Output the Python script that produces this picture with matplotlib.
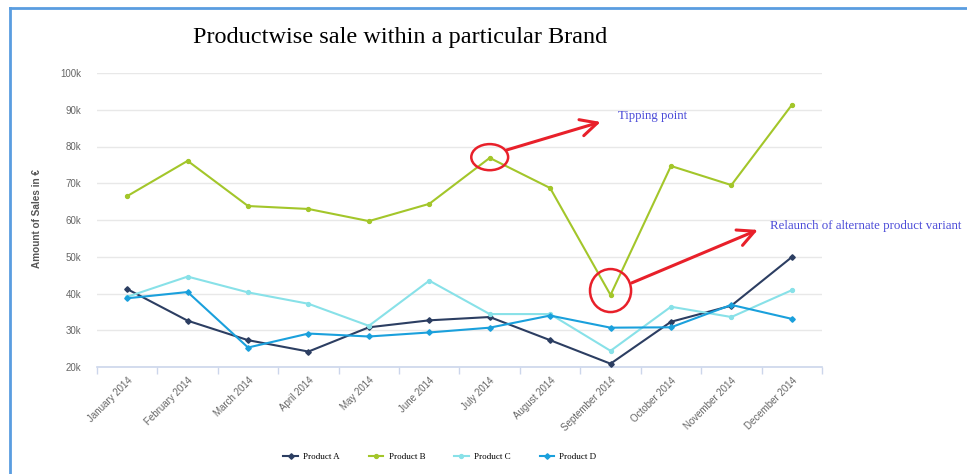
import numpy as np
import matplotlib
matplotlib.use("Agg")
import matplotlib.pyplot as plt
from matplotlib.patches import Ellipse
from matplotlib.lines import Line2D
from matplotlib.ticker import FuncFormatter

# monthly sales per product, in thousands of euro
months = ["January 2014", "February 2014", "March 2014", "April 2014", "May 2014",
          "June 2014", "July 2014", "August 2014", "September 2014", "October 2014",
          "November 2014", "December 2014"]
product_a = [41.2, 32.6, 27.3, 24.2, 30.8, 32.7, 33.6, 27.3, 20.9, 32.3, 36.7, 49.9]
product_b = [66.5, 76.1, 63.8, 63.0, 59.7, 64.4, 76.9, 68.7, 39.6, 74.7, 69.5, 91.3]
product_c = [39.1, 44.6, 40.3, 37.2, 31.2, 43.5, 34.4, 34.4, 24.4, 36.4, 33.6, 40.9]
product_d = [38.7, 40.4, 25.3, 29.1, 28.3, 29.4, 30.7, 34.0, 30.7, 30.8, 36.9, 33.1]
yticks = [20, 30, 40, 50, 60, 70, 80, 90, 100]

names = ["Product A", "Product B", "Product C", "Product D"]
colors = ["#2c3e62", "#a3c62a", "#88e1e8", "#1aa0dc"]
markers = ["D", "o", "o", "D"]
series = [product_a, product_b, product_c, product_d]

W, H = 967, 474
fig = plt.figure(figsize=(W / 100, H / 100), dpi=100)
fig.patch.set_facecolor("white")

# plot area in pixels: left 97, right 822, top 73, bottom 367
ax = fig.add_axes([97 / W, 1 - 367 / H, (822 - 97) / W, (367 - 73) / H])
x = np.arange(len(months))

for vals, name, c, m in zip(series, names, colors, markers):
    ax.plot(x, vals, color=c, lw=1.5, marker=m, ms=2.8, label=name, zorder=3)

ax.set_xlim(-0.5, len(months) - 0.5)
ax.set_ylim(20, 100)
ax.set_yticks(yticks)
ax.yaxis.set_major_formatter(FuncFormatter(lambda v, p: f"{int(v)}k"))
ax.grid(axis="y", color="#e8e8e8", lw=1)
ax.set_axisbelow(True)
for s in ["top", "right", "left"]:
    ax.spines[s].set_visible(False)
ax.spines["bottom"].set_color("#ccd6eb")
ax.spines["bottom"].set_linewidth(1.2)

ax.tick_params(axis="y", length=0, pad=11.5, labelsize=7, labelcolor="#666666")
ax.set_xticks(x)
ax.set_xticklabels(months, rotation=45, ha="right", rotation_mode="anchor",
                   fontsize=7, color="#666666")
ax.tick_params(axis="x", length=0, pad=6)
ax.set_xticks(np.arange(-0.5, len(months)), minor=True)
ax.tick_params(axis="x", which="minor", length=5, color="#ccd6eb", width=1)
for lab in ax.get_xticklabels() + ax.get_yticklabels():
    lab.set_family("Liberation Sans")

# callouts
red = "#e8202a"
head = "->,head_length=1.2,head_width=0.6"
ax.add_patch(Ellipse((6, 77.1), 0.61, 7.1, fill=False, ec=red, lw=1.8, zorder=4))
ax.add_patch(Ellipse((8, 40.8), 0.68, 11.7, fill=False, ec=red, lw=1.8, zorder=4))
ax.annotate("", xy=(7.88, 86.9), xytext=(6.23, 78.8),
            arrowprops=dict(arrowstyle=head, color=red, lw=2.2))
ax.annotate("", xy=(10.48, 57.6), xytext=(8.31, 42.6),
            arrowprops=dict(arrowstyle=head, color=red, lw=2.2))

note = "#4b4bd8"
fig.text(618 / W, 1 - 116 / H, "Tipping point", fontsize=9.2, color=note,
         family="Liberation Serif", ha="left", va="center")
fig.text(770 / W, 1 - 226 / H, "Relaunch of alternate product variant", fontsize=9.3,
         color=note, family="Liberation Serif", ha="left", va="center")

fig.text(400 / W, 1 - 37 / H, "Productwise sale within a particular Brand", fontsize=17.5,
         family="Liberation Serif", ha="center", va="center", color="black")
fig.text(37 / W, 1 - 219 / H, "Amount of Sales in €", rotation=90, fontsize=7.2,
         fontweight="bold", color="#555555", family="Liberation Sans",
         ha="center", va="center")

leg = fig.legend(loc="center", bbox_to_anchor=(440 / W, 1 - 457 / H), ncol=4,
                 frameon=False, handlelength=1.6, columnspacing=3.2, handletextpad=0.6,
                 prop={"family": "Liberation Serif", "size": 6.5})

# outer frame lines
blue = "#5a9de0"
fig.add_artist(Line2D([10 / W, 10 / W], [0, 1 - 8 / H], color=blue, lw=2))
fig.add_artist(Line2D([10 / W, 1], [1 - 8 / H, 1 - 8 / H], color=blue, lw=2))

fig.savefig("out.png", dpi=100)
